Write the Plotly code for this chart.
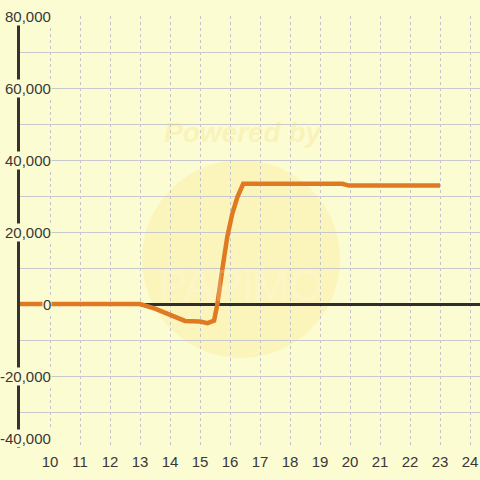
import plotly.graph_objects as go

# Data
x_vals = [9, 13, 13.5, 14, 14.5, 15, 15.25, 15.47, 15.58, 15.74, 15.91, 16.08, 16.25, 16.44, 19.75, 19.96, 23]
y_vals = [0, 0, -1300, -3000, -4700, -4850, -5300, -4600, 0, 9400, 18700, 25200, 29800, 33400, 33400, 32900, 32900]

x_ticks = list(range(10, 25))
y_label_vals = [80000, 60000, 40000, 20000, 0, -20000, -40000]

BG = "#fcfcd2"
W, H = 480, 480
L, R, T, B = 20, 0, 16, 32
X0 = 9
PX_PER_UNIT = 30
X1 = X0 + (W - L - R) / PX_PER_UNIT

fig = go.Figure()
fig.add_trace(go.Scatter(
    x=x_vals, y=y_vals, mode="lines",
    line=dict(color="#e07a22", width=4.5),
    hoverinfo="skip", showlegend=False,
))

def px_to_x(px):
    return X0 + (px - L) / PX_PER_UNIT

def px_to_y(py):
    return 80000 - (py - T) * (120000 / (H - T - B))

# faint watermark circle
fig.add_shape(type="circle", xref="x", yref="y",
              x0=px_to_x(142), x1=px_to_x(340), y0=px_to_y(358), y1=px_to_y(160),
              fillcolor="rgba(250,228,130,0.28)", line=dict(width=0), layer="below")

annotations = []
for v in y_label_vals:
    annotations.append(dict(
        xref="paper", yref="y", x=(51.5 - L) / (W - L - R), y=v,
        xanchor="right", yanchor="bottom" if v == -40000 else "middle", showarrow=False,
        text=f"{v:,}", bgcolor=BG, borderpad=0,
        font=dict(family="Liberation Sans, Arial, sans-serif", size=15, color="#383838"),
    ))

annotations.append(dict(
    xref="paper", yref="paper", x=(243 - L) / (W - L - R), y=1 - (133 - T) / (H - T - B),
    xanchor="center", yanchor="middle", showarrow=False, text="Powered by",
    font=dict(family="Liberation Sans, Arial, sans-serif", size=28, color="rgba(240,215,110,0.25)",
              weight="bold", style="italic"),
))
annotations.append(dict(
    xref="paper", yref="paper", x=(240 - L) / (W - L - R), y=1 - (285 - T) / (H - T - B),
    xanchor="center", yanchor="middle", showarrow=False, text="PAPiMO",
    font=dict(family="Liberation Sans, Arial, sans-serif", size=44, color="rgba(255,255,255,0.2)"),
))

fig.update_layout(
    width=W, height=H,
    margin=dict(l=L, r=R, t=T, b=B, pad=0),
    paper_bgcolor=BG, plot_bgcolor=BG,
    annotations=annotations,
    xaxis=dict(
        range=[X0, X1], tickvals=x_ticks, ticktext=[str(t) for t in x_ticks],
        showgrid=True, gridcolor="#c4c4c4", griddash="3px,3px", gridwidth=1,
        zeroline=False, showline=False, ticks="", ticklabelstandoff=3,
        tickfont=dict(family="Liberation Sans, Arial, sans-serif", size=15, color="#383838"),
        fixedrange=True,
    ),
    yaxis=dict(
        range=[-40000, 80000], dtick=10000, showticklabels=False,
        showgrid=True, gridcolor="#c8c8cc", gridwidth=1,
        zeroline=True, zerolinecolor="#2e2e2e", zerolinewidth=3,
        showline=True, linecolor="#333333", linewidth=3,
        ticks="", fixedrange=True,
    ),
)

fig.write_html("out.html", config={"displayModeBar": False},
               post_script="document.body.style.margin='0';document.body.style.background='" + BG + "';")
